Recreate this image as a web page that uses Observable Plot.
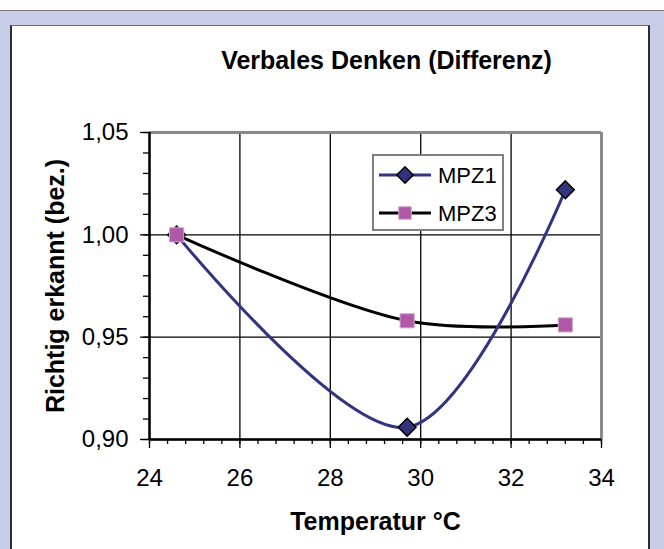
<!DOCTYPE html>
<html>
<head>
<meta charset="utf-8">
<script src="https://cdn.jsdelivr.net/npm/d3@7"></script>
<script src="https://cdn.jsdelivr.net/npm/@observablehq/plot@0.6"></script>
<style>
  html, body { margin: 0; padding: 0; background: #ffffff; }
  #root { position: relative; width: 664px; height: 549px; overflow: hidden; font-family: "Liberation Sans", Arial, sans-serif; }
  #bg { position: absolute; left: 0; top: 10px; width: 664px; height: 539px; background: #C8CCE6; border-top: 1px solid #7a7a7a; box-sizing: border-box; }
  #panel { position: absolute; left: 10px; top: 25px; width: 640px; height: 524px; background: #ffffff; border-left: 2px solid #2e2e3a; border-right: 2px solid #2e2e3a; border-top: 1px solid #6a6a6a; box-sizing: border-box; }
  #chart { position: absolute; left: 0; top: 0; }
  #legend { position: absolute; left: 372px; top: 154px; width: 132px; height: 77px; background: #ffffff; border: 2px solid #808080; box-sizing: border-box; }
</style>
</head>
<body>
<div id="root">
  <div id="bg"></div>
  <div id="panel"></div>
  <div id="chart"></div>
  <div id="legend"></div>
</div>
<script>
// ---- data ----
const title = "Verbales Denken (Differenz)";
const xLabel = "Temperatur °C";
const yLabel = "Richtig erkannt (bez.)";
const seriesNames = ["MPZ1", "MPZ3"];
const temperatures = [24.6, 29.7, 33.2];
const mpz1Values = [1.000, 0.906, 1.022];
const mpz3Values = [1.000, 0.958, 0.956];
const xTicks = [24, 26, 28, 30, 32, 34];
const yTicks = [0.90, 0.95, 1.00, 1.05];
const xMinorTicks = d3.range(24, 34.001, 0.4);
const yMinorTicks = d3.range(0.90, 1.0501, 0.01);

const colors = { MPZ1: "#33337F", MPZ3: "#B058A8" };
const lineColors = { MPZ1: "#33337F", MPZ3: "#000000" };

const mpz1 = temperatures.map((t, i) => ({ x: t, y: mpz1Values[i], s: "MPZ1" }));
const mpz3 = temperatures.map((t, i) => ({ x: t, y: mpz3Values[i], s: "MPZ3" }));

const fmtY = d => d3.format(".2f")(d).replace(".", ",");
const FS = 24;
const FT = 25;

const chart = Plot.plot({
  width: 664,
  height: 549,
  marginLeft: 149,
  marginRight: 63,
  marginTop: 132,
  marginBottom: 110,
  style: { background: "transparent", fontFamily: "'Liberation Sans', Arial, sans-serif", overflow: "visible" },
  x: { domain: [24, 34] },
  y: { domain: [0.90, 1.05] },
  marks: [
    Plot.gridX(xTicks, { stroke: "#000", strokeOpacity: 1, strokeWidth: 1.3 }),
    Plot.gridY(yTicks, { stroke: "#000", strokeOpacity: 1, strokeWidth: 1.3 }),
    Plot.ruleY([1.05], { stroke: "#8a8a8a", strokeWidth: 3 }),
    Plot.ruleX([34], { stroke: "#8a8a8a", strokeWidth: 3 }),
    Plot.axisX({ ticks: xMinorTicks, tickSize: 5, tickFormat: () => "", stroke: "#000", strokeWidth: 1.3, label: null }),
    Plot.axisY({ ticks: yMinorTicks, tickSize: 6, tickFormat: () => "", stroke: "#000", strokeWidth: 1.3, label: null }),
    Plot.axisX({ ticks: xTicks, tickSize: 9, tickPadding: 20, tickFormat: d => String(d), fontSize: FS, fill: "#000", stroke: "#000", strokeWidth: 1.3, label: null }),
    Plot.axisY({ ticks: yTicks, tickSize: 9, tickPadding: 12, tickFormat: fmtY, fontSize: FS, fill: "#000", stroke: "#000", strokeWidth: 1.3, label: null }),
    Plot.ruleX([24], { stroke: "#000", strokeWidth: 2.5 }),
    Plot.ruleY([0.90], { stroke: "#000", strokeWidth: 2.5 }),
    Plot.line(mpz3, { x: "x", y: "y", stroke: lineColors.MPZ3, strokeWidth: 3, curve: "catmull-rom" }),
    Plot.line(mpz1, { x: "x", y: "y", stroke: lineColors.MPZ1, strokeWidth: 3, curve: "catmull-rom" }),
    Plot.dot(mpz1, { x: "x", y: "y", symbol: "diamond2", r: 8, fill: colors.MPZ1, stroke: "#000", strokeWidth: 1.5 }),
    Plot.dot(mpz3, { x: "x", y: "y", symbol: "square", r: 8, fill: colors.MPZ3, stroke: "#D4A6D0", strokeWidth: 1 }),
    Plot.text([title], { frameAnchor: "top", lineAnchor: "middle", textAnchor: "middle", dx: 11, dy: -72, text: d => d, fontSize: FT, fontWeight: "bold", fill: "#000" }),
    Plot.text([xLabel], { frameAnchor: "bottom", lineAnchor: "middle", textAnchor: "middle", dy: 82, text: d => d, fontSize: FT, fontWeight: "bold", fill: "#000" }),
    Plot.text([yLabel], { frameAnchor: "left", lineAnchor: "middle", textAnchor: "middle", dx: -94, rotate: -90, text: d => d, fontSize: FT, fontWeight: "bold", fill: "#000" })
  ]
});
document.getElementById("chart").appendChild(chart);

// ---- legend ----
const legend = d3.select("#legend").append("svg").attr("width", 128).attr("height", 73).style("display", "block");
const symbolPaths = {
  MPZ1: d3.symbol(d3.symbolDiamond2, 170)(),
  MPZ3: d3.symbol(d3.symbolSquare2, 200)()
};
seriesNames.forEach((name, i) => {
  const g = legend.append("g").attr("transform", `translate(0, ${19 + i * 38})`);
  g.append("line").attr("x1", 5).attr("x2", 57).attr("y1", 0).attr("y2", 0)
    .attr("stroke", lineColors[name]).attr("stroke-width", 3);
  g.append("path").attr("d", symbolPaths[name]).attr("transform", "translate(31,0)")
    .attr("fill", colors[name]).attr("stroke", name === "MPZ1" ? "#000" : "#D4A6D0").attr("stroke-width", name === "MPZ1" ? 1.5 : 1);
  g.append("text").attr("x", 64).attr("y", 0).attr("dy", "0.36em")
    .attr("font-size", 22).attr("font-family", "'Liberation Sans', Arial, sans-serif").attr("fill", "#000").text(name);
});
</script>
</body>
</html>
